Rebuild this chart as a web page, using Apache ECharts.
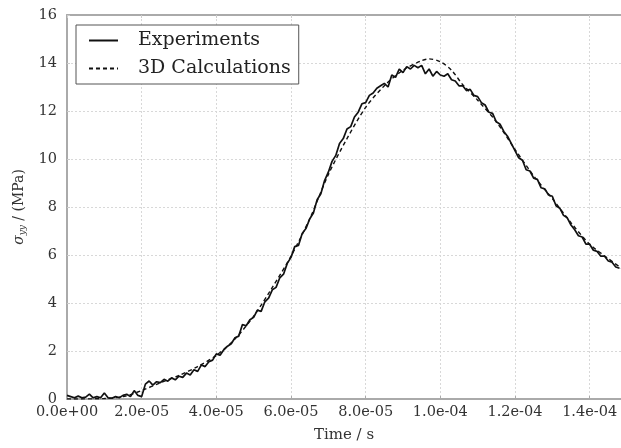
<!DOCTYPE html>
<html>
<head>
<meta charset="utf-8">
<script src="https://cdn.jsdelivr.net/npm/echarts@6/dist/echarts.min.js"></script>
<style>html,body{margin:0;padding:0;background:#fff}#c{width:621px;height:448px}</style>
</head>
<body>
<div id="c"></div>
<script>
// Experiment: time in microseconds and stress in MPa
const expTimeUs = [0,1,2,3,4,5,6,7,8,9,10,11,12,13,14,15,16,17,18,19,20,21,22,23,24,25,26,27,28,29,30,31,32,33,34,35,36,37,38,39,40,41,42,43,44,45,46,47,48,49,50,51,52,53,54,55,56,57,58,59,60,61,62,63,64,65,66,67,68,69,70,71,72,73,74,75,76,77,78,79,80,81,82,83,84,85,86,87,88,89,90,91,92,93,94,95,96,97,98,99,100,101,102,103,104,105,106,107,108,109,110,111,112,113,114,115,116,117,118,119,120,121,122,123,124,125,126,127,128,129,130,131,132,133,134,135,136,137,138,139,140,141,142,143,144,145,146,147,148];
const expStress = [0.15,0.1,0.05,0.12,0.05,0.08,0.2,0.05,0.1,0.05,0.25,0.05,0.03,0.1,0.05,0.15,0.2,0.1,0.35,0.15,0.1,
  0.62,0.75,0.58,0.72,0.68,0.82,0.74,0.88,0.8,0.95,0.9,1.08,1.0,1.22,1.15,1.42,1.35,1.55,1.62,1.88,1.82,2.05,2.2,2.3,2.55,2.62,3.1,3.05,3.3,3.4,3.7,3.65,4.05,4.2,4.55,4.65,5.05,5.2,5.65,5.9,6.35,6.4,6.9,7.1,7.5,7.75,8.3,8.55,9.1,9.45,9.9,10.15,10.65,10.85,11.25,11.35,11.75,11.95,12.3,12.35,12.65,12.75,12.95,13.05,13.15,13.0,13.5,13.4,13.75,13.6,13.85,13.75,13.9,13.8,13.9,13.55,13.75,13.45,13.65,13.5,13.45,13.55,13.3,13.25,13.05,13.05,12.85,12.9,12.65,12.6,12.35,12.25,11.95,11.9,11.55,11.45,11.15,10.95,10.65,10.35,10.05,9.95,9.55,9.5,9.2,9.15,8.8,8.75,8.5,8.45,8.05,7.95,7.65,7.55,7.25,7.05,6.8,6.75,6.45,6.45,6.2,6.15,5.95,5.95,5.75,5.7,5.5,5.45];

// 3D calculations
const calcTimeUs = [0,10,15,20,25,30,35,40,45,50,55,60,65,70,75,80,85,90,95,97,100,103,106,110,115,120,125,130,135,140,145,148.5];
const calcStress = [0,0.02,0.1,0.35,0.68,0.98,1.35,1.82,2.5,3.45,4.65,5.95,7.5,9.35,10.85,12.15,13.05,13.7,14.1,14.17,14.05,13.7,13.1,12.45,11.55,10.4,9.3,8.35,7.35,6.45,5.85,5.45];

const seriesNames = ['Experiments', '3D Calculations'];
const xTickStep = 2e-5, xMax = 1.484e-4;
const yTickStep = 2, yMax = 16;

function sci(v) {
  if (Math.abs(v) < 1e-12) return '0.0e+00';
  const s = v.toExponential(1);
  const m = s.split('e');
  let e = parseInt(m[1], 10);
  const sign = e < 0 ? '-' : '+';
  e = Math.abs(e);
  return m[0] + 'e' + sign + (e < 10 ? '0' + e : '' + e);
}

const expData = expTimeUs.map((t, i) => [t * 1e-6, expStress[i]]);
const calcData = calcTimeUs.map((t, i) => [t * 1e-6, calcStress[i]]);

const font = 'DejaVu Serif';
const chart = echarts.init(document.getElementById('c'), null, {renderer: 'canvas'});
chart.setOption({
  animation: false,
  backgroundColor: '#fff',
  grid: {left: 67, right: 0, top: 15, bottom: 47},
  legend: {
    orient: 'vertical', left: 76, top: 25,
    data: seriesNames,
    backgroundColor: '#fff', borderColor: '#555', borderWidth: 1,
    padding: [6, 8, 6, 12], itemGap: 9, itemWidth: 29, itemHeight: 19,
    itemStyle: {opacity: 0},
    textStyle: {fontFamily: font, fontSize: 19, color: '#222', padding: [0, 0, 0, 15]}
  },
  xAxis: [{
    type: 'value', min: 0, max: xMax, interval: xTickStep,
    name: 'Time / s', nameLocation: 'middle', nameGap: 29,
    nameTextStyle: {fontFamily: font, fontSize: 15, color: '#333'},
    axisLine: {lineStyle: {color: '#aaa', width: 2}},
    axisTick: {show: true, inside: true, length: 3, lineStyle: {color: '#aaa'}},
    axisLabel: {fontFamily: font, fontSize: 14.5, color: '#333', margin: 6, showMaxLabel: false, formatter: sci},
    splitLine: {show: true, lineStyle: {color: '#d8d8d8', type: [2, 2], width: 1}}
  }, {
    type: 'value', position: 'top', min: 0, max: xMax, interval: xTickStep,
    axisLine: {show: true, lineStyle: {color: '#aaa', width: 2}},
    axisTick: {show: true, inside: true, length: 3, lineStyle: {color: '#ccc'}},
    axisLabel: {show: false}, splitLine: {show: false}
  }],
  yAxis: {
    type: 'value', min: 0, max: yMax, interval: yTickStep,
    name: '{s|σ}{sub|yy} / (MPa)', nameLocation: 'middle', nameGap: 37, nameRotate: 90,
    nameTextStyle: {fontFamily: font, fontSize: 14, color: '#333',
      rich: {s: {fontFamily: font, fontStyle: 'italic', fontSize: 14, color: '#333'},
             sub: {fontFamily: font, fontStyle: 'italic', fontSize: 9, color: '#333', verticalAlign: 'bottom', padding: [7, 0, 0, 0]}}},
    axisLine: {show: true, lineStyle: {color: '#aaa', width: 2}},
    axisTick: {show: true, inside: true, length: 3, lineStyle: {color: '#ccc'}},
    axisLabel: {fontFamily: font, fontSize: 14.5, color: '#333', margin: 10},
    splitLine: {show: true, lineStyle: {color: '#d8d8d8', type: [2, 2], width: 1}}
  },
  series: [{
    name: seriesNames[0], type: 'line', data: expData, showSymbol: false, symbol: 'none',
    lineStyle: {color: '#111', width: 1.7}, itemStyle: {color: '#111'}, z: 3
  }, {
    name: seriesNames[1], type: 'line', data: calcData, showSymbol: false, symbol: 'none', smooth: 0.3,
    lineStyle: {color: '#111', width: 1.4, type: [4, 3]}, itemStyle: {color: '#111'}, z: 2
  }]
});
</script>
</body>
</html>
